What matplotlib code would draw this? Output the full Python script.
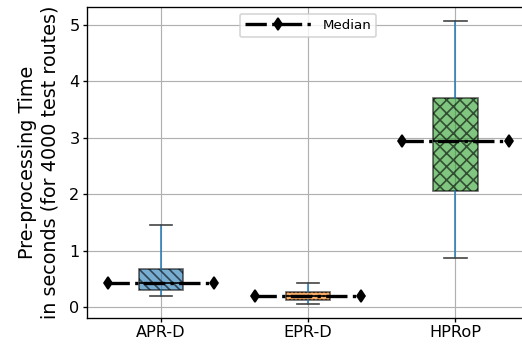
import matplotlib
matplotlib.use("Agg")
import matplotlib.pyplot as plt

# Five-number summaries of pre-processing time (seconds) per method
methods = ["APR-D", "EPR-D", "HPRoP"]
whisker_low = [0.20, 0.06, 0.87]
q1 = [0.30, 0.12, 2.05]
medians = [0.43, 0.20, 2.95]
q3 = [0.67, 0.27, 3.70]
whisker_high = [1.45, 0.42, 5.07]

fill_colors = ["C0", "C1", "C2"]
hatches = ["\\\\\\\\", ".....", "xxx"]

stats = []
for name, lo, a, m, b, hi in zip(methods, whisker_low, q1, medians, q3, whisker_high):
    stats.append({"label": name, "whislo": lo, "q1": a, "med": m, "q3": b,
                  "whishi": hi, "fliers": []})

DPI = 120
fig = plt.figure(figsize=(522 / DPI, 344 / DPI), dpi=DPI)
ax = fig.add_axes([0.1667, 0.0756, 0.847, 0.904])

positions = list(range(1, len(methods) + 1))
bp = ax.bxp(stats, positions=positions, widths=0.3, patch_artist=True,
            showfliers=False,
            boxprops=dict(edgecolor="black", linewidth=1.0),
            whiskerprops=dict(color="C0", linewidth=0.9),
            capprops=dict(color="#444444", linewidth=1.0),
            medianprops=dict(color="black", linewidth=1.0))

for patch, col, h in zip(bp["boxes"], fill_colors, hatches):
    patch.set_facecolor(col)
    patch.set_alpha(0.6)
    patch.set_edgecolor("black")
    patch.set_hatch(h)

# Dash-dot median markers across each box
for i, (pos, m) in enumerate(zip(positions, medians)):
    ax.plot([pos - 0.36, pos + 0.36], [m, m], linestyle="-.", color="black",
            linewidth=2.0, marker="d", markersize=5,
            label="Median" if i == 0 else None, zorder=4)

ax.set_xlim(0.5, 3.5)
ax.set_ylim(-0.195, 5.32)
ax.set_xticks(positions)
ax.set_xticklabels(methods, fontsize=9.7)
ax.tick_params(axis="both", labelsize=9.7, length=2.5, pad=2.0)
ax.set_ylabel("Pre-processing Time\nin seconds (for 4000 test routes)", fontsize=11.5,
              labelpad=6)
ax.grid(True, color="#b0b0b0", linewidth=0.7)
ax.set_axisbelow(True)
ax.legend(loc="upper center", fontsize=8, handlelength=5)

fig.savefig("out.png", dpi=DPI)
